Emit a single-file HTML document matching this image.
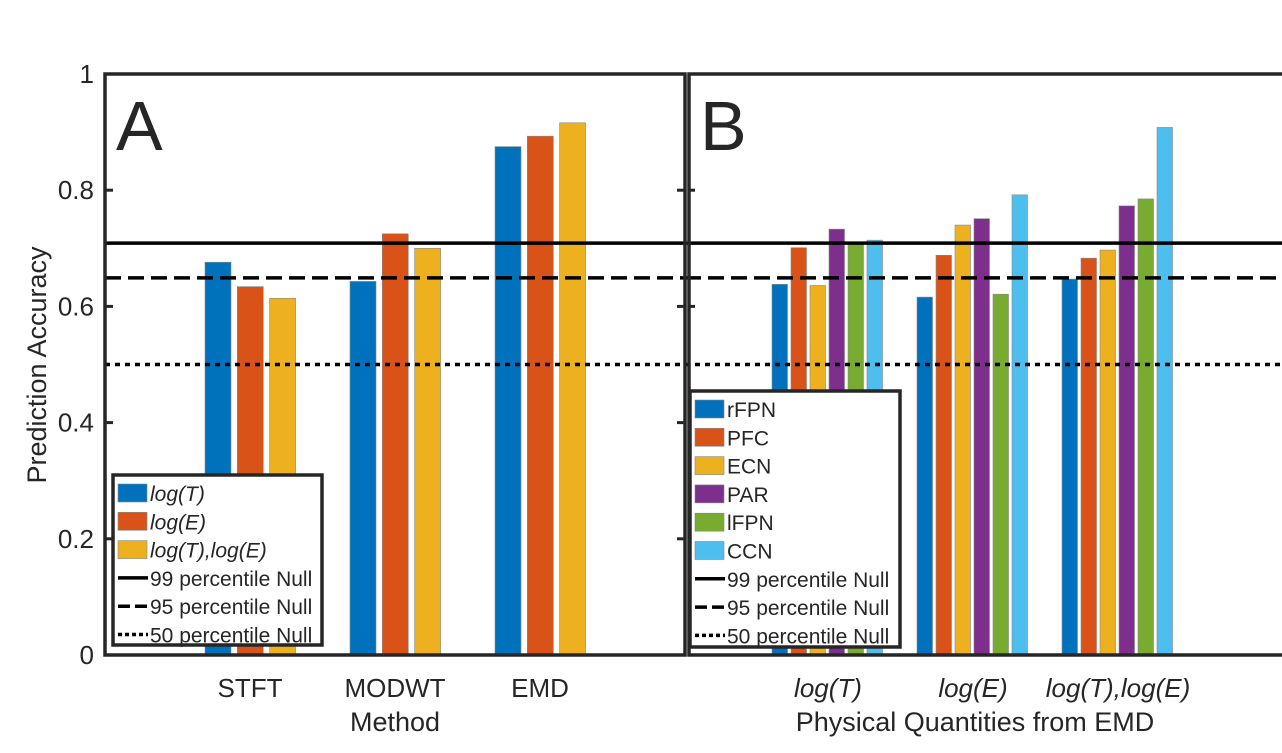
<!DOCTYPE html>
<html><head><meta charset="utf-8"><style>
html,body{margin:0;padding:0;background:#fff;width:1282px;height:753px;overflow:hidden}
svg{display:block;font-family:"Liberation Sans",Arial,sans-serif}
</style></head><body>
<svg id="chart" width="1282" height="753" xmlns="http://www.w3.org/2000/svg"></svg>
<script>
const methodsA = ["STFT","MODWT","EMD"];
const seriesA = ["log(T)","log(E)","log(T),log(E)"];
const valuesA_logT = [0.676,0.643,0.875];
const valuesA_logE = [0.634,0.725,0.893];
const valuesA_both = [0.614,0.700,0.916];
const groupsB = ["log(T)","log(E)","log(T),log(E)"];
const seriesB = ["rFPN","PFC","ECN","PAR","lFPN","CCN"];
const valuesB_rFPN = [0.638,0.616,0.647];
const valuesB_PFC = [0.701,0.688,0.683];
const valuesB_ECN = [0.636,0.740,0.697];
const valuesB_PAR = [0.733,0.751,0.773];
const valuesB_lFPN = [0.708,0.621,0.785];
const valuesB_CCN = [0.714,0.792,0.908];
const nullLevels = [0.709,0.649,0.500];
const nullNames = ["99 percentile Null","95 percentile Null","50 percentile Null"];
const yTicks = [0,0.2,0.4,0.6,0.8,1];
const yTickLabels = ["0","0.2","0.4","0.6","0.8","1"];

const colorsA = ["#0072BD","#D95319","#EDB120"];
const colorsB = ["#0072BD","#D95319","#EDB120","#7E2F8E","#77AC30","#4DBEEE"];
const dashes = ["none","16,7","5,5"];
const svg = document.getElementById('chart');
const NS = "http://www.w3.org/2000/svg";
function mk(tag, attrs, parent){const e=document.createElementNS(NS,tag);for(const k in attrs)e.setAttribute(k,attrs[k]);(parent||svg).appendChild(e);return e;}
const y = v => 655 - 581*v;
const xA = i => 250 + 145*i;
const xB = i => 828 + 145*i;

const vA=[valuesA_logT,valuesA_logE,valuesA_both];
vA.forEach((arr,s)=>arr.forEach((v,i)=>{
  const r=mk('rect',{x:xA(i)-45+32.3*s,y:y(v),width:26,height:y(0)-y(v),fill:colorsA[s],stroke:"#888","stroke-width":0.6});
  
  
}));
const vB=[valuesB_rFPN,valuesB_PFC,valuesB_ECN,valuesB_PAR,valuesB_lFPN,valuesB_CCN];
vB.forEach((arr,s)=>arr.forEach((v,i)=>{
  const r=mk('rect',{x:xB(i)-56+19*s,y:y(v),width:15.5,height:y(0)-y(v),fill:colorsB[s],stroke:"#888","stroke-width":0.6});
  
  
}));
nullLevels.forEach((v,k)=>{
  [[105,685],[685,1282]].forEach((xs,p)=>{
    const l=mk('line',{x1:xs[0],x2:xs[1],y1:y(v),y2:y(v),stroke:"#000","stroke-width":3.5,"stroke-dasharray":dashes[k]});
    
    
  });
});
const bA=mk('rect',{x:105,y:74,width:580,height:581,fill:"none",stroke:"#262626","stroke-width":3.5});


const bB=mk('path',{d:"M1290 74 H689 V655 H1290",fill:"none",stroke:"#262626","stroke-width":3.5});


yTicks.forEach((v,i)=>{
  mk('line',{x1:105,x2:113,y1:y(v),y2:y(v),stroke:"#262626","stroke-width":3});
  mk('line',{x1:677,x2:685,y1:y(v),y2:y(v),stroke:"#262626","stroke-width":3});
  mk('line',{x1:689,x2:695,y1:y(v),y2:y(v),stroke:"#262626","stroke-width":3});
  const t=mk('text',{x:94,y:y(v)+9,"text-anchor":"end","font-size":26,fill:"#262626"});
  t.textContent=yTickLabels[i];
  
  
});
methodsA.forEach((m,i)=>{
  const t=mk('text',{x:xA(i),y:697,"text-anchor":"middle","font-size":26,fill:"#262626"});
  t.textContent=m;
  
  
});
groupsB.forEach((m,i)=>{
  const t=mk('text',{x:xB(i),y:697,"text-anchor":"middle","font-size":26,"font-style":"italic",fill:"#262626"});
  t.textContent=m;
  
  
});
function label(txt,x,yy,size,name,extra){const t=mk('text',Object.assign({x:x,y:yy,"font-size":size,fill:"#262626"},extra||{}));t.textContent=txt;return t;}
label("Method",395,731,27,"x-axis-title-a",{"text-anchor":"middle"});
label("Physical Quantities from EMD",975,731,27,"x-axis-title-b",{"text-anchor":"middle"});
label("Prediction Accuracy",46,365,27,"y-axis-title",{"text-anchor":"middle",transform:"rotate(-90 46 365)"});
label("A",116,150,70,"panel-label-a");
label("B",700,150,70,"panel-label-b");

function legend(x0,y0,w,h,names,colors,italic,pre){
  const g=mk('g',{});
  
  
  mk('rect',{x:x0,y:y0,width:w,height:h,fill:"#fff",stroke:"#262626","stroke-width":3.5},g);
  let yy=y0+18;
  names.forEach((n,i)=>{
    mk('rect',{x:x0+5,y:yy-9,width:29,height:18,fill:colors[i],stroke:"#888","stroke-width":0.6},g);
    const t=mk('text',{x:x0+37,y:yy+8,"font-size":21,fill:"#262626","font-style":italic?"italic":"normal"},g);
    t.textContent=n;
    
    
    yy+=28.3;
  });
  nullNames.forEach((n,k)=>{
    mk('line',{x1:x0+5,x2:x0+35,y1:yy,y2:yy,stroke:"#000","stroke-width":3.5,"stroke-dasharray":k==0?"none":(k==1?"12,5":"4,3")},g);
    const t=mk('text',{x:x0+37,y:yy+8,"font-size":21,fill:"#262626"},g);
    t.textContent=n;
    
    
    yy+=28.3;
  });
}
legend(113,475,209,170,seriesA,colorsA,true,'panel-a');
legend(690,391,210,256,seriesB,colorsB,false,'panel-b');
</script>
</body></html>
